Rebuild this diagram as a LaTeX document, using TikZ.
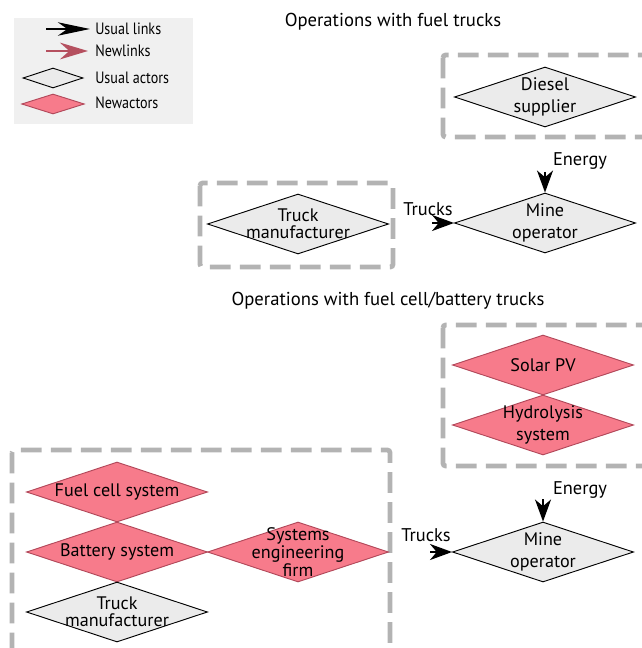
\documentclass[tikz,border=0pt]{standalone}
\usepackage{fontspec}
\setmainfont{PT Sans}
\newfontfamily\legendfont[FakeStretch=0.86]{PT Sans}
\usetikzlibrary{shapes.geometric,arrows.meta}
\definecolor{actorgray}{HTML}{EBEBEB}
\definecolor{newfill}{HTML}{F77B8B}
\definecolor{newedge}{HTML}{B2485A}
\definecolor{newlink}{HTML}{B5505F}
\definecolor{groupgray}{HTML}{B3B3B3}
\definecolor{legendbg}{HTML}{F0F0F0}
\tikzset{
  x=0.75pt, y=-0.75pt,
  actor/.style={diamond, draw=black, line width=0.7pt, fill=actorgray,
    inner sep=0pt, minimum width=181*0.75pt, minimum height=60*0.75pt},
  newactor/.style={actor, draw=newedge, fill=newfill},
  actortext/.style={align=center, font=\fontsize{13.6}{16}\selectfont, inner sep=0pt},
  mediumtext/.style={actortext, font=\fontsize{13.6}{12.5}\selectfont},
  tighttext/.style={actortext, font=\fontsize{13.6}{11}\selectfont},
  group/.style={draw=groupgray, line width=3.6pt, dash pattern=on 15.5pt off 7pt,
    rounded corners=2pt},
  usuallink/.style={-{Stealth[length=16.5pt, width=12pt, inset=5pt]}, line width=1.5pt},
  title/.style={font=\fontsize{14}{16}\selectfont},
  flowlabel/.style={font=\fontsize{13.8}{16}\selectfont},
  legendtext/.style={anchor=west, inner sep=0pt, font=\legendfont\fontsize{12.3}{13}\selectfont},
}
\begin{document}
\begin{tikzpicture}
\useasboundingbox (0,0) rectangle (641,648);

% legend
\fill[legendbg] (14,18) rectangle (193,124);
\coordinate (lu0) at (46,29);
\coordinate (lu1) at (90,29);
\coordinate (ln0) at (46,51);
\coordinate (ln1) at (88,51);
\draw[line width=2.2pt, -{Stealth[length=24pt, width=10pt, inset=7pt]}] (lu0) -- (lu1);
\draw[line width=2pt, newlink, -{Stealth[length=21pt, width=12.5pt, inset=7pt]}] (ln0) -- (ln1);
\node[actor, minimum width=45pt, minimum height=15pt] (lgact) at (53,78) {};
\node[newactor, minimum width=47pt, minimum height=15pt] (lgnew) at (53,104) {};
\node[legendtext] (lt1) at (95,29) {Usual links};
\node[legendtext] (lt2) at (95,51) {Newlinks};
\node[legendtext] (lt3) at (95,78) {Usual actors};
\node[legendtext] (lt4) at (95,103) {Newactors};

% operations with fuel trucks
\node[title] (t1) at (393,22) {Operations with fuel trucks};
\draw[group] (443,55) rectangle (652,137);
\draw[group] (200,183) rectangle (393,267);
\node[actor, label={[actortext]center:Diesel\\supplier}] (diesel) at (545,97) {};
\node[actor, label={[mediumtext]center:Truck\\manufacturer}] (truck1) at (298,224) {};
\node[actor, label={[actortext]center:Mine\\operator}] (mine1) at (545,223) {};
\coordinate (energy1) at (545,172);
\coordinate (trucks1) at (432,223);
\draw[usuallink] (energy1) -- (mine1.north);
\draw[usuallink] (trucks1) -- (mine1.west);
\node[flowlabel] (el1) at (580,161) {Energy};
\node[flowlabel] (tl1) at (428,209) {Trucks};

% operations with fuel cell / battery trucks
\node[title] (t2) at (388,301) {Operations with fuel cell/battery trucks};
\draw[group] (443,325) rectangle (652,466);
\draw[group] (12,450) rectangle (390,660);
\node[newactor, label={[actortext]center:Solar PV}] (solar) at (543,365) {};
\node[newactor, label={[actortext]center:Hydrolysis\\system}] (hydro) at (543,425) {};
\node[newactor, label={[actortext]center:Fuel cell system}] (fuelcell) at (117,492) {};
\node[newactor, label={[actortext]center:Battery system}] (battery) at (117,552) {};
\node[newactor, label={[tighttext]center:Systems\\engineering\\firm}] (sysfirm) at (298,552) {};
\node[actor, label={[mediumtext]center:Truck\\manufacturer}] (truck2) at (117,612) {};
\node[actor, label={[actortext]center:Mine\\operator}] (mine2) at (543,552) {};
\coordinate (energy2) at (543,499);
\coordinate (trucks2) at (430,552);
\draw[usuallink] (energy2) -- (mine2.north);
\draw[usuallink] (trucks2) -- (mine2.west);
\node[flowlabel] (el2) at (580,490) {Energy};
\node[flowlabel] (tl2) at (426,535) {Trucks};
\end{tikzpicture}
\end{document}
